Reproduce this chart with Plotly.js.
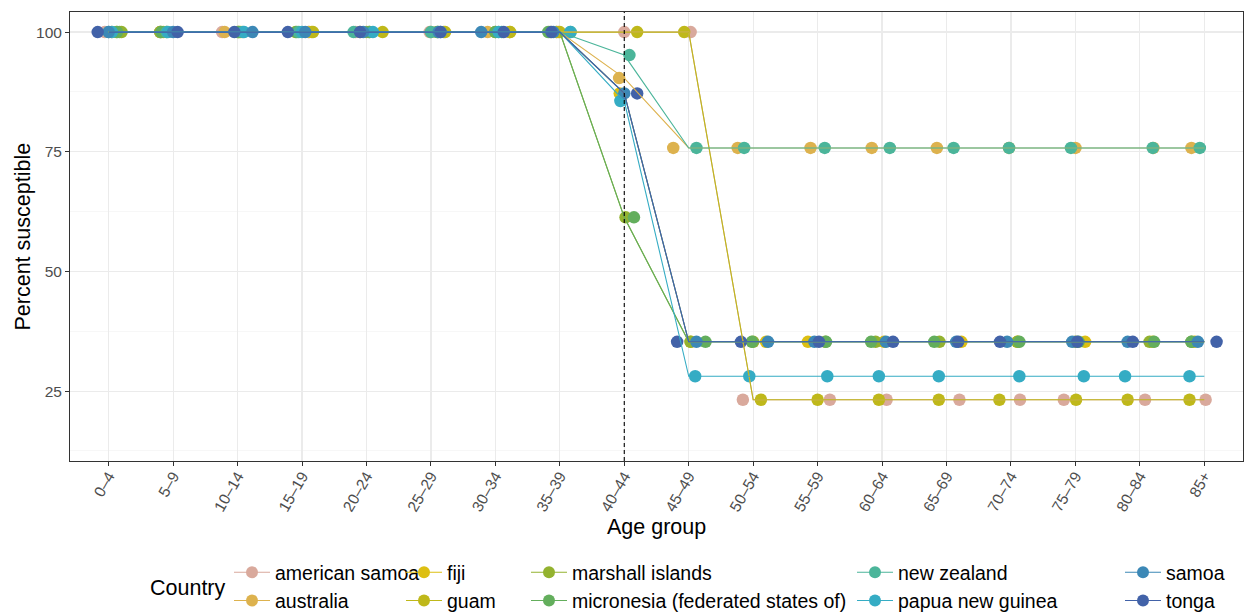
<!DOCTYPE html>
<html>
<head>
<meta charset="utf-8">
<script src="https://cdn.plot.ly/plotly-3.0.1.min.js"></script>
<style>
html,body{margin:0;padding:0;background:#fff;}
#chart{width:1244px;height:615px;}
</style>
</head>
<body>
<div id="chart"></div>
<script>
// ---- data ----
const ageGroups = ['0–4','5–9','10–14','15–19','20–24','25–29','30–34','35–39','40–44','45–49','50–54','55–59','60–64','65–69','70–74','75–79','80–84','85+'];
const countries = ['american samoa','australia','fiji','guam','marshall islands','micronesia (federated states of)','new zealand','papua new guinea','samoa','tonga'];

const americanSamoa = [100,100,100,100,100,100,100,100,100,100,23.2,23.2,23.2,23.2,23.2,23.2,23.2,23.2];
const australia     = [100,100,100,100,100,100,100,100,90.4,75.8,75.8,75.8,75.8,75.8,75.8,75.8,75.8,75.8];
const fiji          = [100,100,100,100,100,100,100,100,87.2,35.3,35.3,35.3,35.3,35.3,35.3,35.3,35.3,35.3];
const guam          = [100,100,100,100,100,100,100,100,100,100,23.2,23.2,23.2,23.2,23.2,23.2,23.2,23.2];
const marshallIslands = [100,100,100,100,100,100,100,100,61.3,35.3,35.3,35.3,35.3,35.3,35.3,35.3,35.3,35.3];
const micronesia    = [100,100,100,100,100,100,100,100,61.3,35.3,35.3,35.3,35.3,35.3,35.3,35.3,35.3,35.3];
const newZealand    = [100,100,100,100,100,100,100,100,95.2,75.8,75.8,75.8,75.8,75.8,75.8,75.8,75.8,75.8];
const papuaNewGuinea = [100,100,100,100,100,100,100,100,85.6,28.1,28.1,28.1,28.1,28.1,28.1,28.1,28.1,28.1];
const samoa         = [100,100,100,100,100,100,100,100,87.2,35.3,35.3,35.3,35.3,35.3,35.3,35.3,35.3,35.3];
const tonga         = [100,100,100,100,100,100,100,100,87.2,35.3,35.3,35.3,35.3,35.3,35.3,35.3,35.3,35.3];

// horizontal jitter of the points (in category units)
const jitterAmericanSamoa = [-0.06,-0.2,-0.24,0.11,-0.17,-0.02,0.05,-0.05,0,0.03,-0.16,0.19,0.07,0.2,0.14,-0.18,0.08,0.02];
const jitterAustralia     = [0.05,-0.2,-0.2,0.1,-0.1,0,-0.12,-0.02,-0.08,-0.24,-0.24,-0.11,-0.16,-0.15,-0.03,0,0.21,-0.2];
const jitterFiji          = [0.12,-0.15,0.05,0.15,0,0.2,0.22,-0.05,-0.07,0.03,0.2,-0.15,0.03,0.23,0.1,0.15,0.2,-0.15];
const jitterGuam          = [0.17,-0.1,0.02,0.17,0.25,0.22,0.23,0,0.2,-0.07,0.12,0,-0.05,-0.12,-0.18,0.01,-0.19,-0.23];
const jitterMarshall      = [0.2,-0.2,0,-0.1,0.05,0.1,0,-0.15,0.02,0.03,0,0.12,-0.1,-0.11,0.1,0,0.15,-0.2];
const jitterMicronesia    = [0.13,-0.18,0.02,-0.08,0.04,0.1,0,-0.18,0.15,0.26,-0.02,0.13,-0.17,-0.19,0.13,0.05,0.22,-0.2];
const jitterNewZealand    = [0,-0.1,0.08,-0.05,-0.2,0,0.1,0.17,0.08,0.12,-0.14,0.11,0.12,0.11,-0.03,-0.07,0.2,-0.07];
const jitterPNG           = [0.05,-0.08,0.1,0,0.1,0.15,0.05,0.16,-0.06,0.1,-0.06,0.15,-0.05,-0.12,0.13,0.13,-0.23,-0.23];
const jitterSamoa         = [0,0,0.23,0.05,-0.05,0.12,-0.22,-0.1,0,0.12,0.23,-0.05,0.06,0.15,-0.06,-0.05,-0.19,-0.1];
const jitterTonga         = [-0.17,0.07,-0.05,-0.22,-0.1,0.15,0.13,-0.13,0.2,-0.18,-0.19,0.02,0.17,0.18,-0.17,0.03,-0.11,0.19];

const seriesValues = [americanSamoa,australia,fiji,guam,marshallIslands,micronesia,newZealand,papuaNewGuinea,samoa,tonga];
const seriesJitter = [jitterAmericanSamoa,jitterAustralia,jitterFiji,jitterGuam,jitterMarshall,jitterMicronesia,jitterNewZealand,jitterPNG,jitterSamoa,jitterTonga];

// ---- styles ----
const colors = ['#D9A99C','#DDB24E','#DDBF12','#BFB81A','#93B22F','#63AE5C','#4BB59A','#35ACC4','#3C88B6','#4262A8'];
const FONT = 'Liberation Sans, Arial, sans-serif';
const legendIds = ['legend','legend2','legend3','legend4','legend5'];

const idx = ageGroups.map((_, i) => i);
const traces = [];
// points (drawn first)
countries.forEach((c, k) => {
  traces.push({
    type: 'scatter', mode: 'markers', name: c, showlegend: false, hoverinfo: 'skip',
    x: idx.map(i => i + seriesJitter[k][i]), y: seriesValues[k],
    marker: {color: colors[k], size: 12.5, line: {width: 0}}
  });
});
// lines on top
countries.forEach((c, k) => {
  traces.push({
    type: 'scatter', mode: 'lines', name: c, showlegend: false, hoverinfo: 'skip',
    x: idx, y: seriesValues[k],
    line: {color: colors[k], width: 1.1}
  });
});
// legend entries
countries.forEach((c, k) => {
  traces.push({
    type: 'scatter', mode: 'lines+markers', name: c, showlegend: true,
    legend: legendIds[Math.floor(k / 2)],
    x: [null], y: [null],
    line: {color: colors[k], width: 1.1},
    marker: {color: colors[k], size: 12}
  });
});

const legendX = [229, 401, 526, 852, 1120];
const layout = {
  width: 1244, height: 615,
  paper_bgcolor: '#fff', plot_bgcolor: '#fff',
  margin: {l: 70, r: 1, t: 12, b: 154, autoexpand: false},
  font: {family: FONT, color: '#000'},
  xaxis: {
    range: [-0.6, 17.6], tickmode: 'array', tickvals: idx, ticktext: ageGroups,
    tickangle: -60, tickfont: {size: 15.5, color: '#4D4D4D', family: FONT},
    ticklabelstandoff: -5,
    ticks: 'outside', ticklen: 4, tickcolor: '#333333', tickwidth: 1,
    showgrid: true, gridcolor: '#EBEBEB', gridwidth: 1.2, zeroline: false,
    showline: true, linecolor: '#333333', linewidth: 1, mirror: true, automargin: false
  },
  yaxis: {
    range: [10.4, 104.2], tickmode: 'array', tickvals: [25, 50, 75, 100],
    tickfont: {size: 15.5, color: '#4D4D4D', family: FONT},
    ticks: 'outside', ticklen: 4, tickcolor: '#333333', tickwidth: 1,
    showgrid: true, gridcolor: '#EBEBEB', gridwidth: 1.2, zeroline: false,
    minor: {tickvals: [12.5, 37.5, 62.5, 87.5], showgrid: true, gridcolor: '#F3F3F3', gridwidth: 0.7, ticks: ''},
    showline: true, linecolor: '#333333', linewidth: 1, mirror: true, automargin: false
  },
  shapes: [{
    type: 'line', xref: 'x', yref: 'paper', x0: 8, x1: 8, y0: 0, y1: 1,
    line: {color: '#000', width: 1.1, dash: '4px,3px'}, layer: 'above'
  }],
  annotations: [
    {
      text: 'Country', xref: 'paper', yref: 'paper', showarrow: false,
      x: (148 - 70) / 1173, xanchor: 'left', y: -(588 - 461) / 449, yanchor: 'middle',
      font: {size: 21.5, color: '#000', family: FONT}
    },
    {
      text: 'Age group', xref: 'paper', yref: 'paper', showarrow: false,
      x: 0.5, xanchor: 'center', y: -(527 - 461) / 449, yanchor: 'middle',
      font: {size: 21.5, color: '#000', family: FONT}
    },
    {
      text: 'Percent susceptible', xref: 'paper', yref: 'paper', showarrow: false, textangle: -90,
      x: -(70 - 22) / 1173, xanchor: 'center', y: 0.5, yanchor: 'middle',
      font: {size: 21.5, color: '#000', family: FONT}
    }
  ],
  showlegend: true
};
legendIds.forEach((id, j) => {
  layout[id] = {
    xref: 'container', yref: 'container', x: legendX[j] / 1244, xanchor: 'left',
    y: 1 - 553 / 615, yanchor: 'top', orientation: 'v', itemwidth: 36,
    bgcolor: 'rgba(0,0,0,0)', borderwidth: 0,
    font: {size: 19.5, color: '#000', family: FONT}, traceorder: 'normal'
  };
});

Plotly.newPlot('chart', traces, layout, {staticPlot: true, displayModeBar: false});
</script>
</body>
</html>
